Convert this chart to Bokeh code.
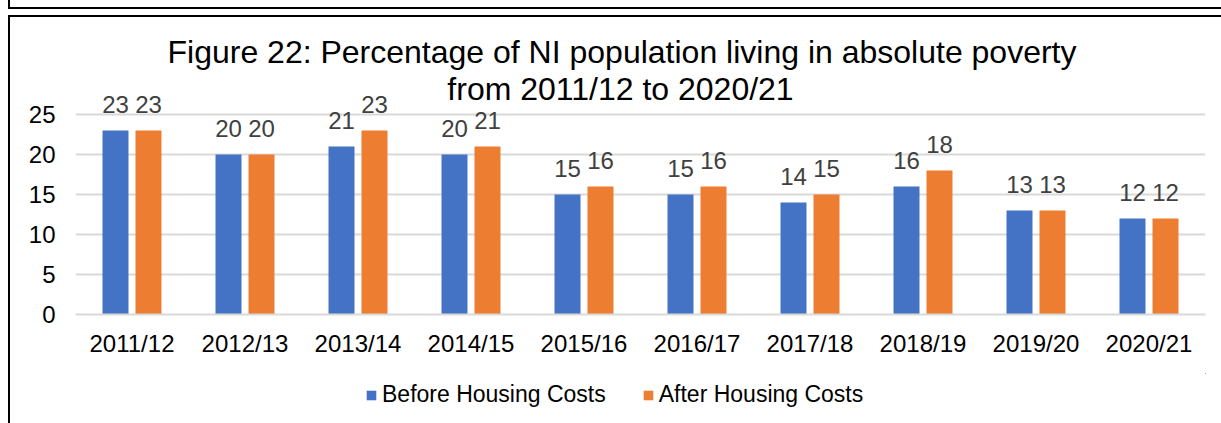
from bokeh.plotting import figure
from bokeh.layouts import column
from bokeh.models import (ColumnDataSource, FactorRange, Range1d, FixedTicker, Label,
                          Legend, LegendItem, InlineStyleSheet)
from bokeh.transform import dodge
from bokeh.core.properties import value
from bokeh.embed import file_html
from bokeh.resources import INLINE

years = ["2011/12", "2012/13", "2013/14", "2014/15", "2015/16",
         "2016/17", "2017/18", "2018/19", "2019/20", "2020/21"]
before_hc = [23, 20, 21, 20, 15, 15, 14, 16, 13, 12]
after_hc = [23, 20, 23, 21, 16, 16, 15, 18, 13, 12]
y_ticks = [0, 5, 10, 15, 20, 25]
title_lines = ["Figure 22: Percentage of NI population living in absolute poverty",
               "from 2011/12 to 2020/21"]
series_names = ["Before Housing Costs", "After Housing Costs"]

BLUE = "#4472C4"
ORANGE = "#ED7D31"
FONT = "Liberation Sans"

src = ColumnDataSource(dict(
    year=years, before=before_hc, after=after_hc,
    before_lbl=[str(v) for v in before_hc], after_lbl=[str(v) for v in after_hc]))

W = 1221
H_MAIN, H_LEG = 373, 50
css = """
:host::before {
  content: ""; position: absolute; left: 8px; top: 0px; width: 1211px; height: 7px;
  border-left: 2px solid #000; border-bottom: 2px solid #000; z-index: 10; pointer-events: none;
}
:host::after {
  content: ""; position: absolute; left: 8px; top: 15px; width: 1211px; height: 406px;
  border-left: 2px solid #000; border-top: 2px solid #000; z-index: 10; pointer-events: none;
}
"""
p = figure(width=W, height=H_MAIN, x_range=FactorRange(*years), y_range=Range1d(0, 39.25),
           output_backend="svg", toolbar_location=None,
           min_border_left=75, min_border_right=16, min_border_top=0, min_border_bottom=59)
p.outline_line_color = None
p.background_fill_color = "white"
p.border_fill_color = "white"

off = 0.146
bw = 0.23
p.vbar(x=dodge("year", -off, range=p.x_range), top="before", width=bw, source=src,
       fill_color=BLUE, line_color=None)
p.vbar(x=dodge("year", off, range=p.x_range), top="after", width=bw, source=src,
       fill_color=ORANGE, line_color=None)

for col, lbl, o in (("before", "before_lbl", -off), ("after", "after_lbl", off)):
    p.text(x=dodge("year", o, range=p.x_range), y=col, text=lbl, source=src,
           text_align="center", text_baseline="alphabetic", y_offset=-26,
           text_font=value(FONT), text_font_size="24px", text_color="#404040")

# axes
p.yaxis.ticker = FixedTicker(ticks=y_ticks)
p.yaxis.axis_line_color = None
p.yaxis.major_tick_line_color = None
p.yaxis.minor_tick_line_color = None
p.yaxis.major_tick_out = 0
p.yaxis.major_label_text_font = FONT
p.yaxis.major_label_text_font_size = "24px"
p.yaxis.major_label_text_color = "black"
p.yaxis.major_label_standoff = 20

p.xaxis.axis_line_color = "#D9D9D9"
p.xaxis.axis_line_width = 2
p.xaxis.major_tick_line_color = None
p.xaxis.major_tick_out = 0
p.xaxis.major_label_text_font = FONT
p.xaxis.major_label_text_font_size = "24px"
p.xaxis.major_label_text_color = "black"
p.xaxis.major_label_standoff = 15

p.xgrid.grid_line_color = None
p.ygrid.ticker = FixedTicker(ticks=y_ticks)
p.ygrid.grid_line_color = "#D9D9D9"
p.ygrid.grid_line_width = 2

# title (inside the frame, which reaches the top of the canvas)
for txt, tx, ty in zip(title_lines, (546.5, 545), (263, 226)):
    p.add_layout(Label(x=tx, y=ty, x_units="screen", y_units="screen", text=txt,
                       text_align="center", text_baseline="alphabetic",
                       text_font=FONT, text_font_size="32px", text_color="black"))

# legend strip below the chart: its renderers are zero-height bars placed
# outside the strip's visible ranges, so only the legend swatches show
lf = figure(width=W, height=H_LEG, x_range=Range1d(0, 1), y_range=Range1d(-1000, -999),
            output_backend="svg", toolbar_location=None,
            x_axis_type=None, y_axis_type=None,
            min_border_left=0, min_border_right=0, min_border_top=0, min_border_bottom=0)
lf.outline_line_color = None
lf.background_fill_color = "white"
lf.border_fill_color = "white"
k1 = lf.vbar(x="before", top="before", bottom="before", width=bw, source=src,
             fill_color=BLUE, line_color=None)
k2 = lf.vbar(x="after", top="after", bottom="after", width=bw, source=src,
             fill_color=ORANGE, line_color=None)
legend = Legend(items=[LegendItem(label=series_names[0], renderers=[k1]),
                       LegendItem(label=series_names[1], renderers=[k2])],
                orientation="horizontal", location=(290, 15),
                glyph_width=12, glyph_height=12, label_standoff=5, spacing=36,
                padding=0, margin=0, border_line_color=None, background_fill_alpha=0,
                label_text_font=FONT, label_text_font_size="23px", label_text_color="black")
lf.add_layout(legend, "center")

layout = column(p, lf, spacing=0, stylesheets=[InlineStyleSheet(css=css)])
open("out.html", "w").write(file_html(layout, INLINE))
